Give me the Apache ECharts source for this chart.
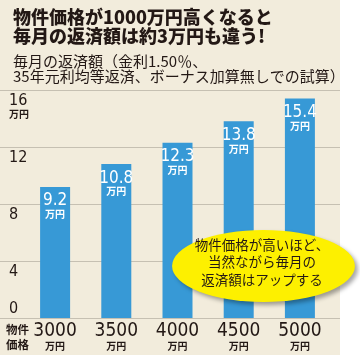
<!DOCTYPE html>
<html>
<head>
<meta charset="utf-8">
<script src="https://cdn.jsdelivr.net/npm/echarts@6/dist/echarts.min.js"></script>
<style>html,body{margin:0;padding:0;background:#fff}#c{width:360px;height:355px}</style>
</head>
<body>
<div id="c"></div>
<script>
// ---- data ----
const titleLines = ['物件価格が1000万円高くなると', '毎月の返済額は約3万円も違う!'];
const subtitleLines = ['毎月の返済額（金利1.50％、', '35年元利均等返済、ボーナス加算無しでの試算）'];
const categories = ['3000', '3500', '4000', '4500', '5000'];
const payments = [9.2, 10.8, 12.3, 13.8, 15.4];
const unit = '万円';
const yMin = 0, yMax = 16, yInterval = 4;
const xAxisCaption = ['物件', '価格'];
const bubbleLines = ['物件価格が高いほど、', '当然ながら毎月の', '返済額はアップする'];

const NARROW = "'Liberation Sans Narrow','DejaVu Sans Condensed','Roboto Condensed',sans-serif";
const JP = "'Noto Sans CJK JP',sans-serif";
const GRID_TOP = 90, GRID_BOTTOM = 37;

const chart = echarts.init(document.getElementById('c'), null, {renderer: 'canvas'});
chart.setOption({
  backgroundColor: '#ffffff',
  animation: false,
  title: {
    text: titleLines.join('\n'),
    subtext: subtitleLines.join('\n'),
    left: 13, top: 8, itemGap: 9, padding: 0,
    textStyle: {fontFamily: JP, fontSize: 18, fontWeight: 900, color: '#231815', lineHeight: 18.5},
    subtextStyle: {fontFamily: JP, fontSize: 15, color: '#231815', lineHeight: 15}
  },
  grid: [
    {left: 24.5, right: 29.5, top: GRID_TOP, bottom: GRID_BOTTOM},
    {left: 0, right: 20, top: GRID_TOP, bottom: GRID_BOTTOM}
  ],
  xAxis: [
    {
      type: 'category', data: categories, gridIndex: 0,
      axisLine: {show: false}, axisTick: {show: false},
      axisLabel: {
        margin: 4,
        formatter: v => '{v|' + v + '}\n{u|' + unit + '}',
        rich: {
          v: {fontFamily: NARROW, fontSize: 19, color: '#231815', lineHeight: 18},
          u: {fontFamily: JP, fontSize: 10, fontWeight: 'bold', color: '#231815', lineHeight: 12}
        }
      }
    },
    {type: 'value', gridIndex: 1, show: false, min: 0, max: 1}
  ],
  yAxis: [
    {type: 'value', gridIndex: 0, min: yMin, max: yMax, interval: yInterval, show: false, splitLine: {show: false}},
    {
      type: 'value', gridIndex: 1, min: yMin, max: yMax, interval: yInterval, position: 'left',
      axisLine: {show: false}, axisTick: {show: false},
      splitLine: {show: true, lineStyle: {color: '#c6c0b2', width: 1}},
      axisLabel: {
        inside: true, margin: 9, align: 'left', verticalAlign: 'top', padding: [3, 0, 0, 0],
        formatter: v => v === yMin ? '' : ('{n|' + v + '}' + (v === yMax ? '\n{u|' + unit + '}' : '')),
        rich: {
          n: {fontFamily: NARROW, fontSize: 16, color: '#231815', lineHeight: 15},
          u: {fontFamily: JP, fontSize: 10, fontWeight: 'bold', color: '#231815', lineHeight: 13}
        }
      }
    },
    {
      type: 'value', gridIndex: 1, min: yMin, max: yMax, interval: yInterval, position: 'left',
      axisLine: {show: false}, axisTick: {show: false}, splitLine: {show: false},
      axisLabel: {
        inside: true, margin: 9, align: 'left', verticalAlign: 'bottom', padding: [0, 0, 2, 0],
        formatter: v => v === yMin ? '{n|' + v + '}' : '',
        rich: {n: {fontFamily: NARROW, fontSize: 16, color: '#231815', lineHeight: 15}}
      }
    }
  ],
  series: [{
    type: 'bar', xAxisIndex: 0, yAxisIndex: 0, data: payments, barWidth: 30,
    itemStyle: {color: '#3799d6'},
    label: {
      show: true, position: 'insideTop', distance: 6,
      formatter: p => '{v|' + p.value + '}\n{u|' + unit + '}',
      rich: {
        v: {fontFamily: NARROW, fontSize: 17, color: '#fff', lineHeight: 16},
        u: {fontFamily: JP, fontSize: 10, fontWeight: 'bold', color: '#fff', lineHeight: 11}
      }
    }
  }],
  graphic: [
    {type: 'rect', z: -10, silent: true, shape: {x: 0, y: 0, width: 340, height: 355}, style: {fill: '#f2ecdc'}},
    {type: 'text', z: 10, left: 6, top: 322, style: {text: xAxisCaption.join('\n'), fontFamily: JP, fontSize: 11.5, fontWeight: 'bold', fill: '#231815', lineHeight: 15}},
    {type: 'circle', z: 20, x: 263.5, y: 266, scaleX: 2.54, scaleY: 1, shape: {cx: 0, cy: 0, r: 36},
      style: {fill: '#fdf000', shadowColor: 'rgba(0,0,0,0.35)', shadowBlur: 4, shadowOffsetX: 3, shadowOffsetY: 3}},
    {type: 'text', z: 21, x: 262, y: 262, style: {text: bubbleLines.join('\n'), fontFamily: JP, fontSize: 13.5, fill: '#231815', lineHeight: 17.5, align: 'center', verticalAlign: 'middle'}}
  ]
});
</script>
</body>
</html>
